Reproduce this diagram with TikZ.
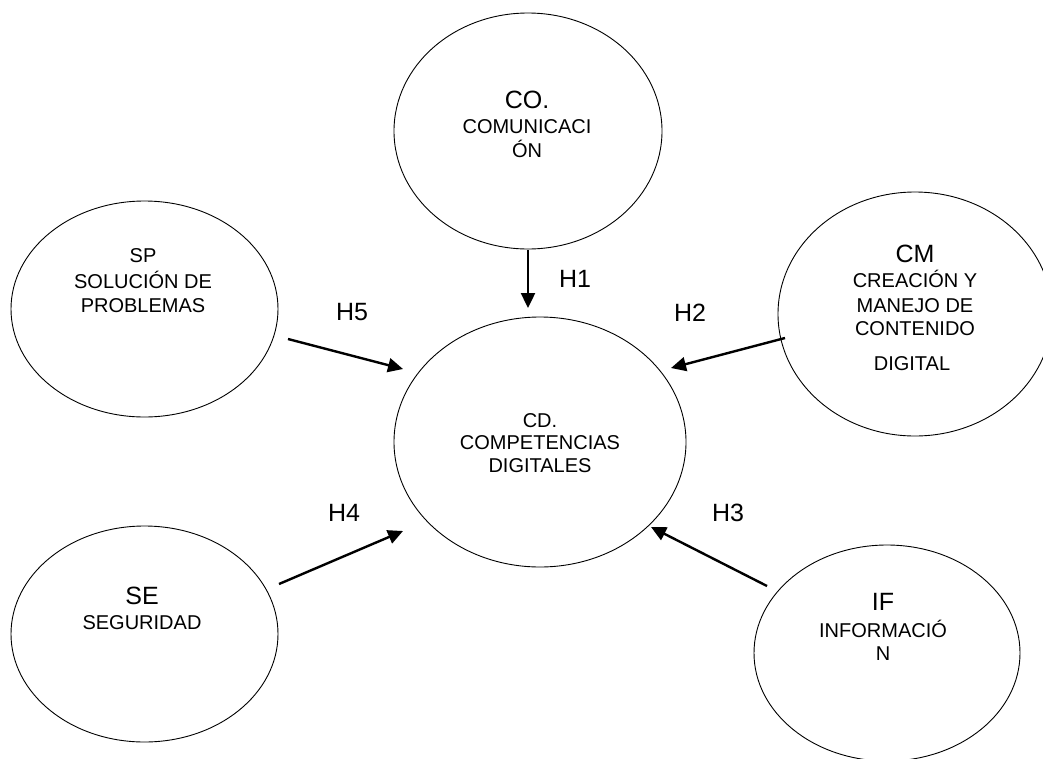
\documentclass[tikz,border=0pt]{standalone}
\usepackage{fontspec}
\setmainfont{Liberation Sans}
\usetikzlibrary{shapes.geometric,arrows.meta}
\begin{document}
\begin{tikzpicture}[x=1pt,y=-1pt,
  oval/.style={draw,ellipse,line width=0.9pt,inner sep=0pt},
  small/.style={anchor=base,inner sep=0pt,font=\fontsize{20}{24}\selectfont},
  big/.style={anchor=base,inner sep=0pt,font=\fontsize{25}{30}\selectfont},
  hyp/.style={line width=2.4pt,-{Triangle[length=15pt,width=14pt]}}]
\useasboundingbox (0,0) rectangle (1043,758);
\clip (0,0) rectangle (1043,758);
% ellipses
\node[oval,minimum width=268pt,minimum height=236pt] (co) at (528,131) {};
\node[oval,minimum width=267pt,minimum height=216pt] (sp) at (144.5,309) {};
\node[oval,minimum width=274pt,minimum height=244pt] (cm) at (915,314) {};
\node[oval,minimum width=292pt,minimum height=250pt] (cd) at (540,442) {};
\node[oval,minimum width=267pt,minimum height=216pt] (se) at (144.5,634) {};
\node[oval,minimum width=266pt,minimum height=216pt] (if) at (887,653) {};
% texts
\node[big]   (coA) at (527,108) {CO.};
\node[small] (coB) at (527,133) {COMUNICACI};
\node[small] (coC) at (527,157) {ÓN};
\node[small] (spA) at (143,262) {SP};
\node[small] (spB) at (143,288) {SOLUCIÓN DE};
\node[small] (spC) at (143,312) {PROBLEMAS};
\node[big]   (cmA) at (915,262) {CM};
\node[small] (cmB) at (915,287) {CREACIÓN Y};
\node[small] (cmC) at (915,312) {MANEJO DE};
\node[small] (cmD) at (915,335) {CONTENIDO};
\node[small] (cmE) at (912,370) {DIGITAL};
\node[small] (cdA) at (540,427) {CD.};
\node[small] (cdB) at (540,449) {COMPETENCIAS};
\node[small] (cdC) at (540,472) {DIGITALES};
\node[big]   (seA) at (142,604) {SE};
\node[small] (seB) at (142,629) {SEGURIDAD};
\node[big]   (ifA) at (883,610) {IF};
\node[small] (ifB) at (883,637) {INFORMACIÓ};
\node[small] (ifC) at (883,660) {N};
% arrow end points
\coordinate (h1s) at (528,250);  \coordinate (h1e) at (528,308);
\coordinate (h5s) at (288,339);  \coordinate (h5e) at (403,369);
\coordinate (h2s) at (785,338);  \coordinate (h2e) at (671,368);
\coordinate (h4s) at (279,584);  \coordinate (h4e) at (403,531);
\coordinate (h3s) at (767,586);  \coordinate (h3e) at (651,527);
\draw[hyp] (h1s) -- (h1e);
\draw[hyp] (h5s) -- (h5e);
\draw[hyp] (h2s) -- (h2e);
\draw[hyp] (h4s) -- (h4e);
\draw[hyp] (h3s) -- (h3e);
% labels
\node[big] (l1) at (575,287) {H1};
\node[big] (l5) at (352,320) {H5};
\node[big] (l2) at (690,321) {H2};
\node[big] (l4) at (344,521) {H4};
\node[big] (l3) at (728,521) {H3};
\end{tikzpicture}
\end{document}
